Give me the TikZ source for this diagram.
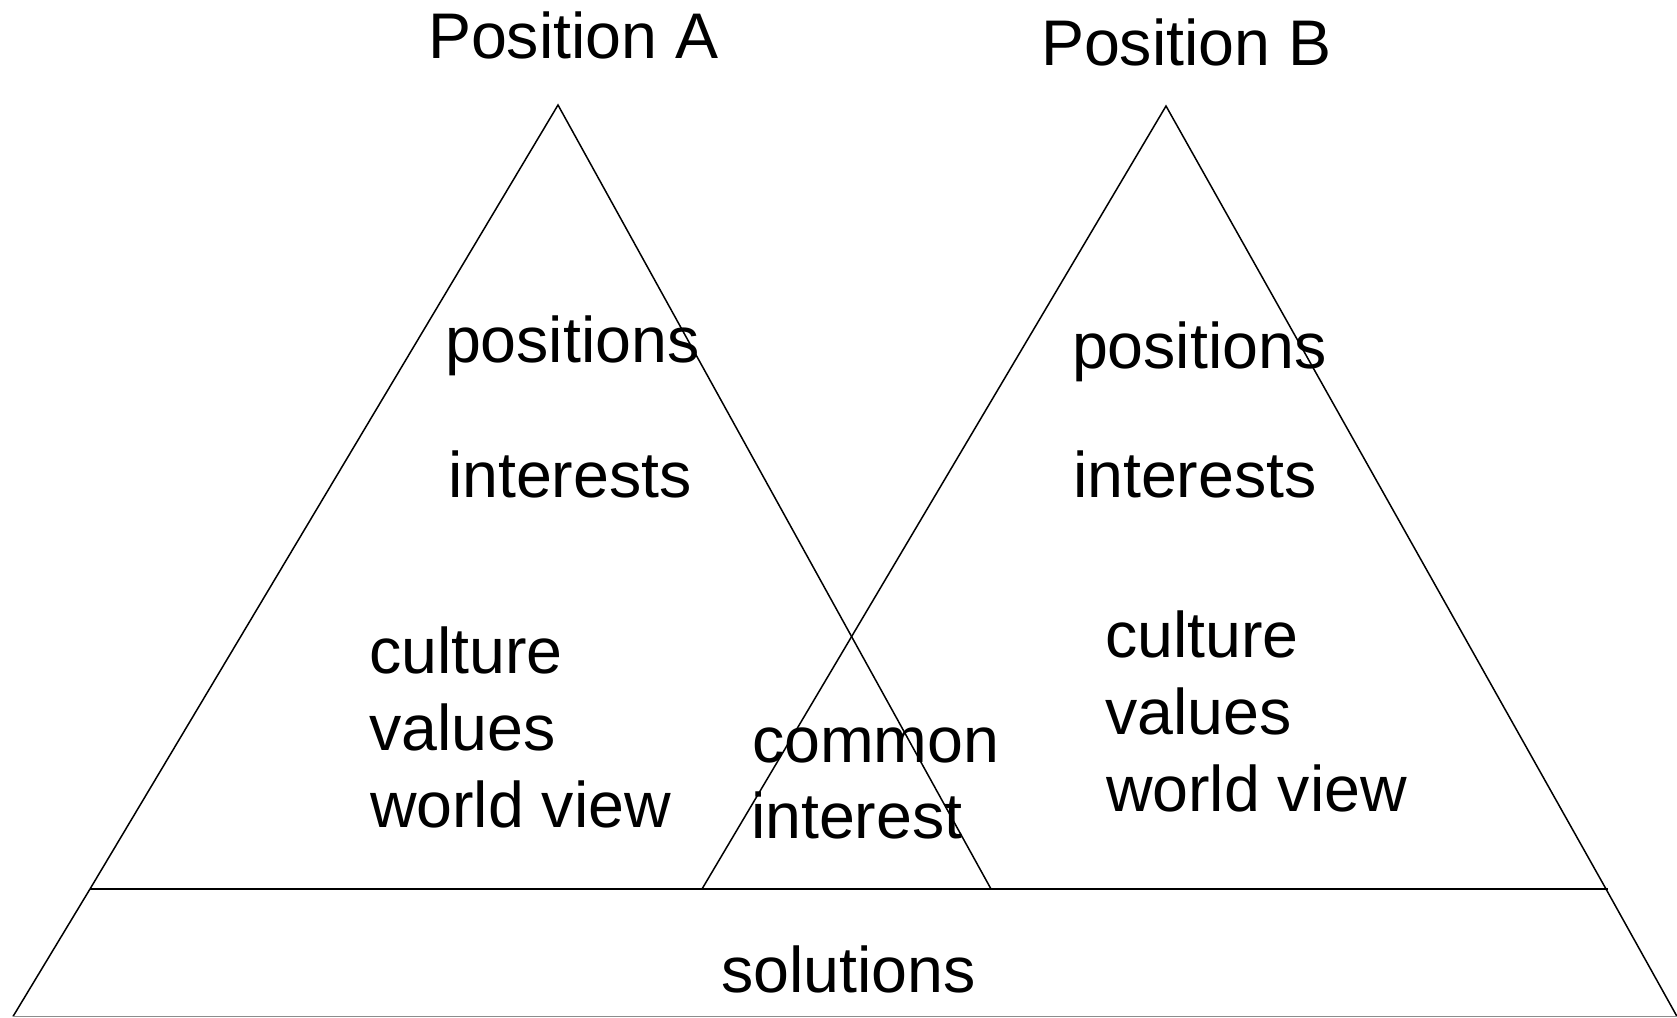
\documentclass[tikz,border=0pt]{standalone}
\usepackage{fontspec}
\setmainfont{Liberation Sans}
\begin{document}
\begin{tikzpicture}[x=1pt,y=-1pt,
  lbl/.style={anchor=base west, inner sep=0pt, outer sep=0pt, font=\fontsize{64.5}{77}\selectfont},
  edge/.style={line width=1.5pt, line join=miter},
  baseln/.style={line width=2pt}]
\useasboundingbox (0,0) rectangle (1677,1017);
% triangle vertices
\coordinate (Atop) at (558,105);
\coordinate (Aleft) at (90,889);
\coordinate (Aright) at (991,889);
\coordinate (Btop) at (1166,106);
\coordinate (Bleft) at (702,889);
\coordinate (Bright) at (1606,889);
\coordinate (Hright) at (1608,889);
\coordinate (BotL) at (13,1016.5);
\coordinate (BotR) at (1677,1016.5);
% triangles
\draw[edge] (Aleft) -- (Atop) -- (Aright);
\draw[edge] (Bleft) -- (Btop) -- (Bright);
% base line and trapezoid
\draw[baseln] (Aleft) -- (Hright);
\draw[edge] (Aleft) -- (BotL);
\draw[edge] (Bright) -- (BotR);
\draw[line width=1pt, black!45] (BotL) -- (BotR);
% labels
\node[lbl] (posA) at (428,58) {Position A};
\node[lbl] (posB) at (1041,65) {Position B};
\node[lbl] (positionsA) at (445,362) {positions};
\node[lbl] (interestsA) at (448,497) {interests};
\node[lbl] (positionsB) at (1072,368) {positions};
\node[lbl] (interestsB) at (1073,497) {interests};
\node[lbl] (cultA) at (369,673) {culture};
\node[lbl] (valA) at (369,750) {values};
\node[lbl] (worldA) at (370,827) {world view};
\node[lbl] (cultB) at (1105,657) {culture};
\node[lbl] (valB) at (1105,734) {values};
\node[lbl] (worldB) at (1106,811) {world view};
\node[lbl] (common) at (752,762) {common};
\node[lbl] (interest) at (751,838) {interest};
\node[lbl] (solutions) at (721,992) {solutions};
\end{tikzpicture}
\end{document}
